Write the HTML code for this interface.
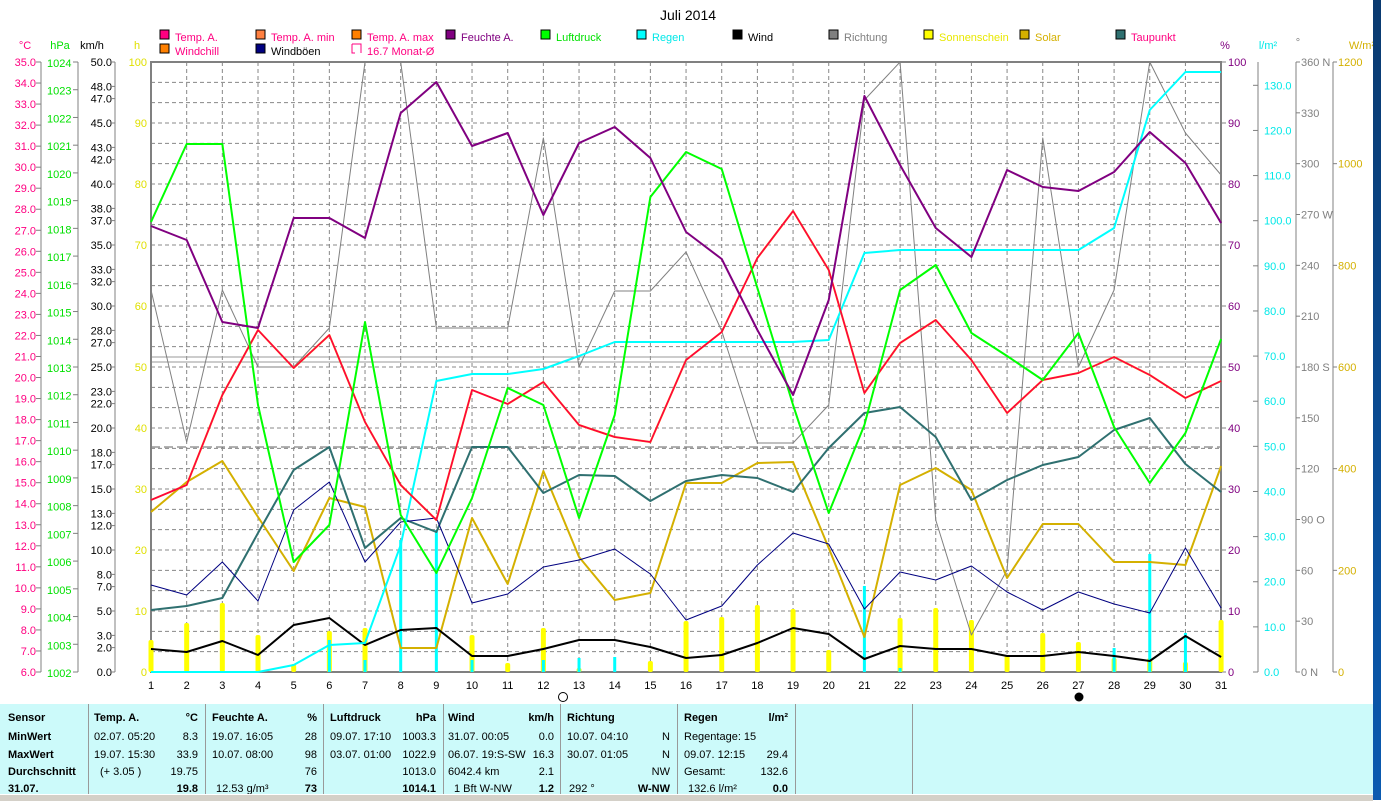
<!DOCTYPE html>
<html><head><meta charset="utf-8"><style>
body{margin:0;width:1381px;height:800px;overflow:hidden;background:#fff;font-family:"Liberation Sans",sans-serif;}
svg text{font-family:"Liberation Sans",sans-serif;font-size:11px;}
#tbl{position:absolute;left:0;top:704px;width:1373px;height:90px;background:#ccfafa;font-size:11px;}
#tbl .c{position:absolute;top:0;height:90px;border-right:1px solid #999;}
#tbl div.r{position:absolute;white-space:nowrap;}
</style></head><body>
<svg id="s" width="1381" height="800" style="position:absolute;left:0;top:0"></svg>
<div id="tbl"></div>
<div style="position:absolute;left:0;top:794px;width:1373px;height:6px;background:#d4d0c8;border-top:1px solid #fff"></div>
<div style="position:absolute;left:1373px;top:0;width:8px;height:800px;background:linear-gradient(#0a3a70,#0a5ab0)"></div>
<script>
const s=document.getElementById('s');let h='';
const X0=151,DX=35.67,YT=62,YB=672;
const X=d=>X0+(d-1)*DX;
function t(x,y,str,c,a,fs){h+=`<text x="${x}" y="${y}" fill="${c||'#000'}" text-anchor="${a||'start'}"${fs?` style="font-size:${fs}px"`:''}>${str}</text>`;}
function pl(ys,c,w){h+=`<polyline fill="none" stroke="${c}" stroke-width="${w}" stroke-linejoin="round" points="${ys.map((y,i)=>X(i+1)+','+y).join(' ')}"/>`;}
t(688,20,'Juli 2014','#000','middle',14);
for(let i=1;i<30;i++){let y=YT+i*610/30;h+=`<line x1="${X0}" x2="1221" y1="${y}" y2="${y}" stroke="#888" stroke-dasharray="4,3"/>`;}
for(let d=2;d<=30;d++)h+=`<line x1="${X(d)}" x2="${X(d)}" y1="${YT}" y2="${YB}" stroke="#888" stroke-dasharray="4,3"/>`;
h+=`<line x1="${X0}" x2="1221" y1="447" y2="447" stroke="#666" stroke-dasharray="9,4"/>`;
h+=`<line x1="${X0}" x2="1221" y1="357" y2="357" stroke="#999"/><line x1="${X0}" x2="1221" y1="362" y2="362" stroke="#999"/>`;
h+=`<rect x="${X0}" y="${YT}" width="${1221-X0}" height="${YB-YT}" fill="none" stroke="#808080" stroke-width="2"/>`;
const L=[[160,38,'#ff0080','Temp. A.','#ff0080'],[256,38,'#ff8040','Temp. A. min','#ff0080'],[352,38,'#ff8000','Temp. A. max','#ff0080'],[446,38,'#800080','Feuchte A.','#800080'],[541,38,'#00ff00','Luftdruck','#00e000'],[637,38,'#00ffff','Regen','#00e8e8'],[733,38,'#000','Wind','#000'],[829,38,'#808080','Richtung','#808080'],[924,38,'#ffff00','Sonnenschein','#e8e800'],[1020,38,'#d4b000','Solar','#d4b000'],[1116,38,'#2f7070','Taupunkt','#ff0080'],[160,52,'#ff8000','Windchill','#ff0080'],[256,52,'#000080','Windböen','#000']];
L.forEach(l=>{h+=`<rect x="${l[0]}" y="${l[1]-8}" width="9" height="9" fill="${l[2]}" stroke="#000"/>`;t(l[0]+15,l[1]+3,l[3],l[4]);});
h+=`<path d="M352 44h9v9" fill="none" stroke="#ff0080"/><path d="M352 44v9h3" fill="none" stroke="#ff0080"/>`;t(367,55,'16.7 Monat-Ø','#ff0080');
t(25,49,'°C','#ff0080','middle');t(60,49,'hPa','#00e000','middle');t(92,49,'km/h','#000','middle');t(137,49,'h','#e0e000','middle');
[41,78,115,1258,1296,1333].forEach(a=>h+=`<line x1="${a}" x2="${a}" y1="${YT}" y2="${YB}" stroke="#808080"/>`);
for(let v=6;v<=35;v++){let y=YB-(v-6)*610/29;t(36,y+4,v.toFixed(1),'#ff0080','end');h+=`<line x1="36" x2="41" y1="${y}" y2="${y}" stroke="#808080"/>`;}
for(let v=1002;v<=1024;v++){let y=YB-(v-1002)*610/22;t(47,y+5,v,'#00e000');h+=`<line x1="73" x2="78" y1="${y}" y2="${y}" stroke="#808080"/>`;}
[0,2,3,5,7,8,10,12,13,15,17,18,20,22,23,25,27,28,30,32,33,35,37,38,40,42,43,45,47,48,50].forEach(v=>{let y=YB-v*12.2;t(112,y+4,v.toFixed(1),'#000','end');h+=`<line x1="110" x2="115" y1="${y}" y2="${y}" stroke="#808080"/>`;});
for(let v=0;v<=100;v+=10){let y=YB-v*6.1;t(147,y+4,v,'#e0e000','end');}
t(1225,49,'%','#800080','middle');t(1268,49,'l/m²','#00e8e8','middle');t(1298,46,'°','#808080','middle');t(1362,49,'W/m²','#d4b000','middle');
for(let v=0;v<=100;v+=10){let y=YB-v*6.1;h+=`<line x1="1221" x2="1226" y1="${y}" y2="${y}" stroke="#808080"/>`;t(1228,y+4,v,'#800080');}
for(let v=0;v<=130;v+=10){let y=YB-v*4.513;h+=`<line x1="1253" x2="1258" y1="${y}" y2="${y}" stroke="#808080"/>`;t(1264,y+4,v.toFixed(1),'#00e8e8');}
const dn={0:' N',90:' O',180:' S',270:' W',360:' N'};
for(let v=0;v<=360;v+=30){let y=YB-v*610/360;h+=`<line x1="1296" x2="1300" y1="${y}" y2="${y}" stroke="#808080"/>`;t(1301,y+4,v+(dn[v]||''),'#808080');}
for(let v=0;v<=1200;v+=200){let y=YB-v*610/1200;h+=`<line x1="1333" x2="1337" y1="${y}" y2="${y}" stroke="#808080"/>`;t(1338,y+4,v,'#d4b000');}
for(let d=1;d<=31;d++){t(X(d),689,d,'#000','middle');}
h+=`<circle cx="563" cy="697" r="4.5" fill="#fff" stroke="#000"/><circle cx="1079" cy="697" r="4.5" fill="#000"/>`;
const sun=[640,623,603,635,664,631,628,672,672,635,663,628,668,672,661,621,617,605,609,650,672,618,608,620,655,633,642,658,658,662,620];
sun.forEach((y,i)=>{if(y<671)h+=`<rect x="${X(i+1)-2.5}" y="${y}" width="5" height="${YB-y}" rx="2" fill="#ffff00"/>`;});
const rb={6:640,7:660,8:540,9:530,10:660,12:660,13:658,14:657,21:586,22:668,28:648,29:554,30:633};
for(let d in rb)h+=`<rect x="${X(+d)-1.5}" y="${rb[d]}" width="3" height="${YB-rb[d]}" fill="#00ffff"/>`;
pl([290,442,290,367,367,328,62,62,328,328,328,138,367,291,291,252,331,443,443,405,100,62,520,635,570,138,367,290,62,133,175],'#808080',1);
pl([512,482,461,517,571,498,507,648,648,518,584,471,557,600,593,483,483,463,462,548,637,485,468,490,578,524,524,562,562,565,466],'#d4b000',2);
pl([610,606,598,533,470,447,548,518,532,447,447,493,475,476,501,481,475,478,492,448,413,407,437,500,480,465,457,430,418,464,492],'#2f7070',2);
pl([585,595,562,601,510,482,562,522,518,603,594,567,560,549,574,620,606,565,533,544,609,572,580,566,592,610,592,604,613,548,608],'#000080',1);
pl([649,652,641,655,625,618,645,630,628,656,656,649,640,640,647,658,655,643,628,634,659,646,649,649,656,656,652,656,661,636,657],'#000',2);
pl([672,672,672,672,665,645,643,545,381,374,374,369,356,342,342,342,342,342,342,340,253,250,250,250,250,250,250,228,110,72,72],'#00ffff',2);
pl([500,485,395,330,368,335,422,485,520,390,404,382,425,437,442,360,332,258,211,270,393,343,320,360,413,380,373,357,375,398,381],'#ff8000',2);
pl([500,485,395,330,368,335,422,485,520,390,404,382,425,437,442,360,332,258,211,270,393,343,320,360,413,380,373,357,375,398,381],'#ff0040',1.5);
pl([222,144,144,405,562,525,322,515,573,498,388,405,518,415,197,152,169,288,405,513,425,290,265,333,356,380,333,427,483,433,339],'#00ff00',2);
pl([226,240,322,328,218,218,238,113,82,146,133,215,143,127,158,232,259,330,395,300,96,165,228,257,170,187,191,172,132,163,223],'#800080',2);
s.innerHTML=h;
const T=document.getElementById('tbl');let g='';
[88,205,323,443,560,677,795,912].forEach(x=>g+=`<div class="c" style="left:0;width:${x}px"></div>`);
const rows=[8,27,45,62,79];
function r(x,i,str,b,al){g+=`<div class="r" style="${al?'right:'+(1373-x)+'px':'left:'+x+'px'};top:${rows[i]}px;${b?'font-weight:bold;':''}">${str}</div>`;}
['Sensor','MinWert','MaxWert','Durchschnitt','31.07.'].forEach((v,i)=>r(8,i,v,1));
r(94,0,'Temp. A.',1);r(198,0,'°C',1,1);r(94,1,'02.07.  05:20');r(198,1,'8.3',0,1);r(94,2,'19.07.  15:30');r(198,2,'33.9',0,1);r(100,3,'(+ 3.05 )');r(198,3,'19.75',0,1);r(198,4,'19.8',1,1);
r(212,0,'Feuchte A.',1);r(317,0,'%',1,1);r(212,1,'19.07.  16:05');r(317,1,'28',0,1);r(212,2,'10.07.  08:00');r(317,2,'98',0,1);r(317,3,'76',0,1);r(216,4,'12.53 g/m³');r(317,4,'73',1,1);
r(330,0,'Luftdruck',1);r(436,0,'hPa',1,1);r(330,1,'09.07.  17:10');r(436,1,'1003.3',0,1);r(330,2,'03.07.  01:00');r(436,2,'1022.9',0,1);r(436,3,'1013.0',0,1);r(436,4,'1014.1',1,1);
r(448,0,'Wind',1);r(554,0,'km/h',1,1);r(448,1,'31.07.  00:05');r(554,1,'0.0',0,1);r(448,2,'06.07.  19:S-SW');r(554,2,'16.3',0,1);r(448,3,'6042.4 km');r(554,3,'2.1',0,1);r(454,4,'1 Bft W-NW');r(554,4,'1.2',1,1);
r(567,0,'Richtung',1);r(670,1,'N',0,1);r(567,1,'10.07.  04:10');r(567,2,'30.07.  01:05');r(670,2,'N',0,1);r(670,3,'NW',0,1);r(569,4,'292 °');r(670,4,'W-NW',1,1);
r(684,0,'Regen',1);r(788,0,'l/m²',1,1);r(684,1,'Regentage: 15');r(684,2,'09.07.  12:15');r(788,2,'29.4',0,1);r(684,3,'Gesamt:');r(788,3,'132.6',0,1);r(688,4,'132.6 l/m²');r(788,4,'0.0',1,1);
T.innerHTML=g;
</script>
</body></html>
